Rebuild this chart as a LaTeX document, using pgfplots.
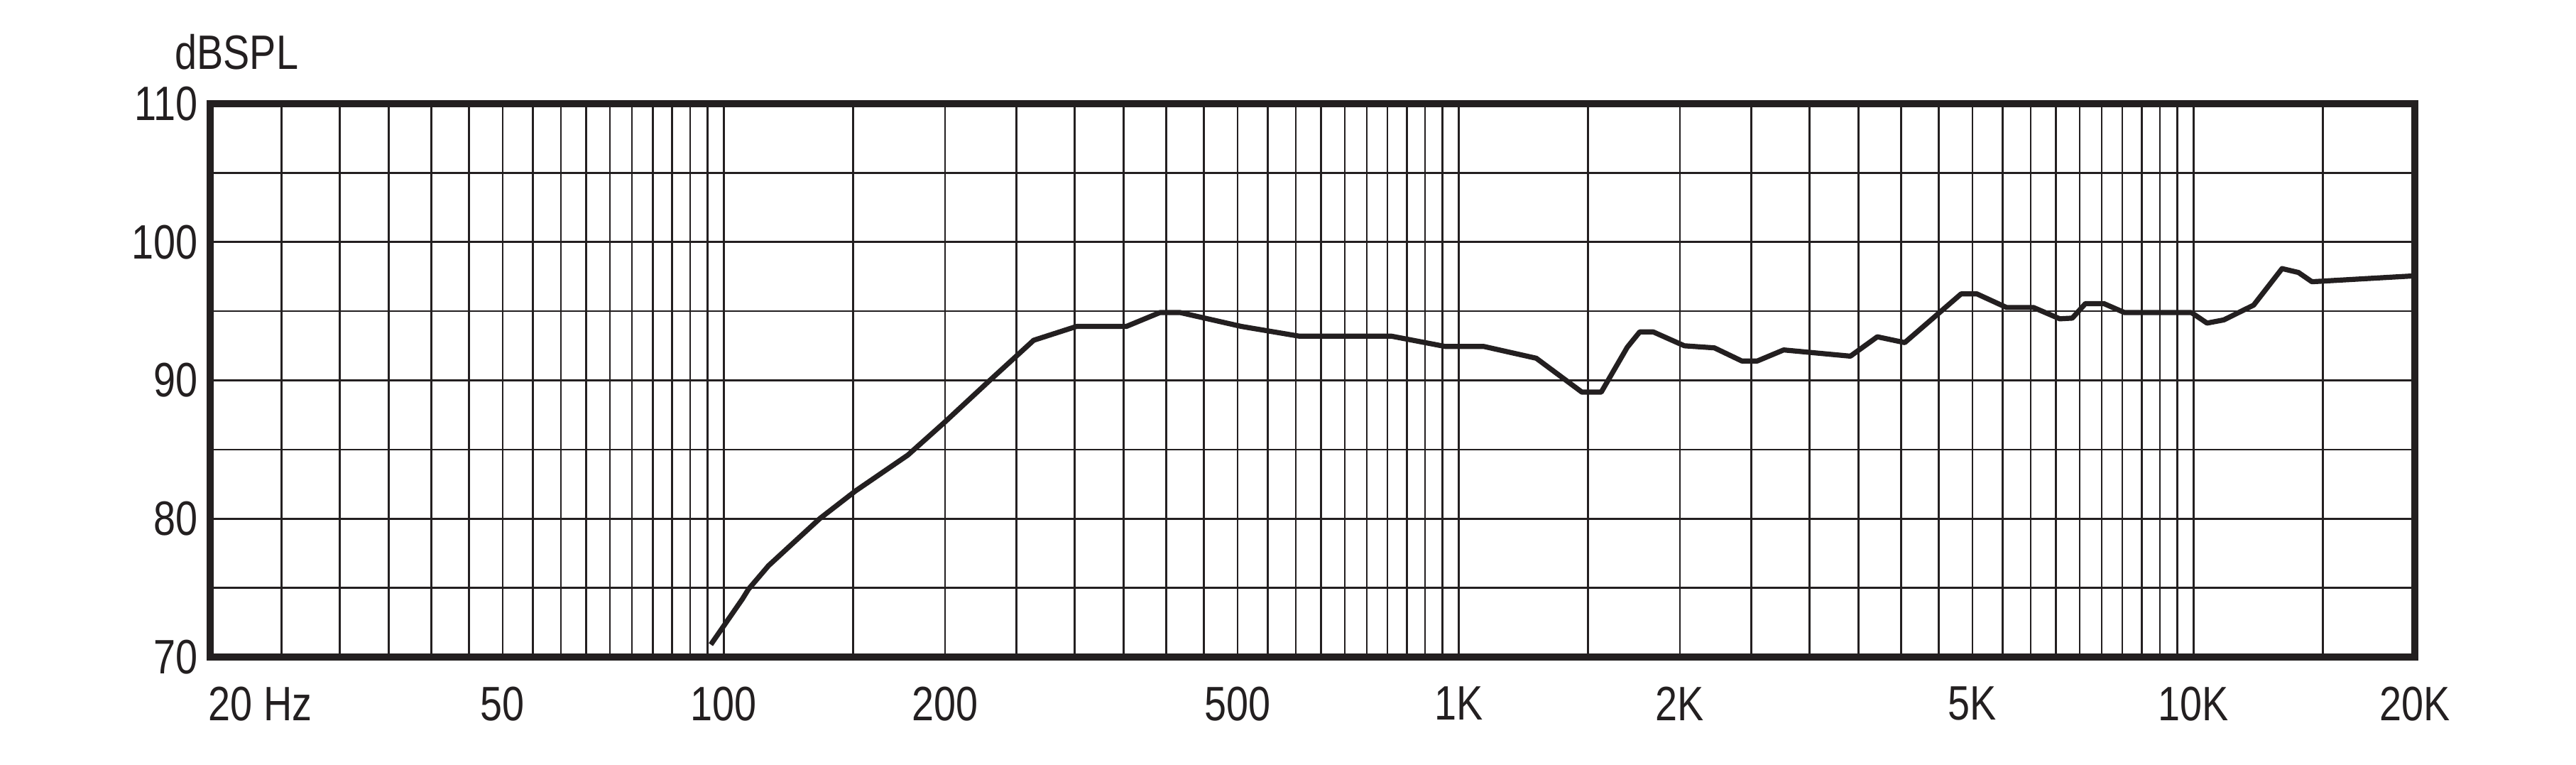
\documentclass[border=0pt]{standalone}
\usepackage{fontspec}
\setmainfont{Liberation Sans}[FakeStretch=0.82]
\usepackage{pgfplots}
\pgfplotsset{compat=1.18}
\definecolor{ink}{HTML}{231F20}
\begin{document}
\fontsize{8.5}{10}\selectfont
\begin{tikzpicture}
\useasboundingbox (-37pt,-18.875pt) rectangle (416.5pt,115.625pt);
\begin{axis}[
  at={(0pt,0pt)}, anchor=south west,
  scale only axis, width=388.125pt, height=97.375pt,
  xmode=log, log basis x=10,
  xmin=20, xmax=20000, ymin=70, ymax=110,
  xtick={50,100,200,500,1000,2000,5000,10000,20000},
  xticklabels={50,100,200,500,1K,2K,5K,10K,20K},
  extra x ticks={20}, extra x tick labels={20 Hz},
  extra x tick style={xticklabel style={anchor=north west, xshift=-0.5pt}},
  minor xtick={25,30,35,40,45,55,60,65,70,75,80,85,90,95,
    150,250,300,350,400,450,550,600,650,700,750,800,850,900,950,
    1500,2500,3000,3500,4000,4500,5500,6000,6500,7000,7500,8000,8500,9000,9500,
    15000},
  ytick={70,80,90,100,110},
  yticklabels={70,80,90,100,110},
  minor ytick={75,85,95,105},
  grid=both,
  major grid style={ink, line width=0.33pt},
  minor grid style={ink, line width=0.33pt},
  major tick length=0pt, minor tick length=0pt,
  tick style={draw=none},
  axis line style={ink, line width=1.2pt},
  every tick label/.append style={font=\fontsize{8.5}{10}\selectfont, text=ink},
  xticklabel style={anchor=north, inner sep=0pt, yshift=-5pt},
  yticklabel style={anchor=east, inner sep=0pt, xshift=-2pt},
]
\addplot[ink, line width=0.9pt, line join=round, mark=none] coordinates {
(96,70.9) (106,74.2) (108,74.9) (115,76.6) (124,78.2) (135,80.0) (151,82.0)
(178,84.6) (200,87.0) (229,89.9) (264,92.9) (302,93.9) (353,93.9)
(392,94.9) (418,94.9) (506,93.9) (606,93.2) (809,93.2) (959,92.45) (1082,92.45)
(1275,91.6) (1471,89.15) (1563,89.15) (1696,92.4) (1763,93.5) (1840,93.5)
(2028,92.5) (2228,92.35) (2428,91.4) (2548,91.4) (2768,92.2) (3412,91.75)
(3712,93.15) (4045,92.73) (4826,96.25) (5072,96.25) (5564,95.27) (6054,95.27)
(6576,94.45) (6838,94.5) (7125,95.55) (7550,95.55) (8054,94.9) (9932,94.9)
(10430,94.14) (10992,94.37) (12070,95.44) (13193,98.08) (13889,97.8)
(14489,97.13) (19890,97.55)
};
\end{axis}
\node[anchor=base west, inner sep=0pt, text=ink] at (-6.375pt,103.5pt) {dBSPL};
\end{tikzpicture}
\end{document}
